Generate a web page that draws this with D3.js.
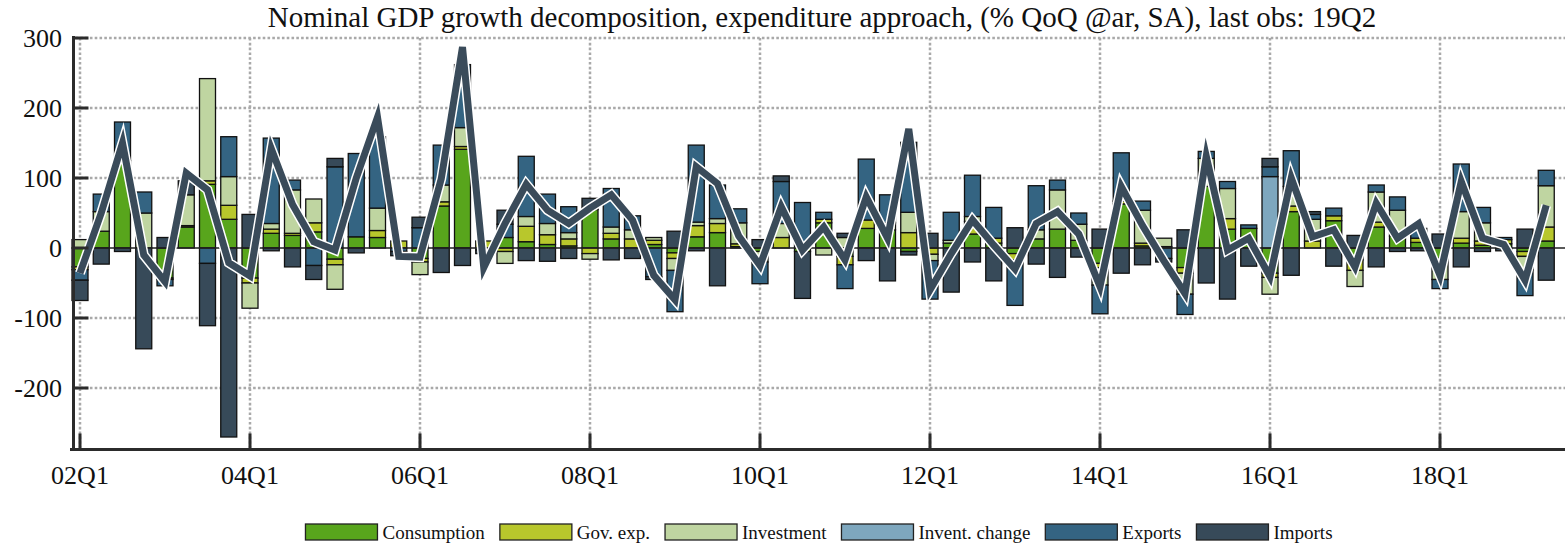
<!DOCTYPE html>
<html lang="en">
<head>
    <meta charset="UTF-8">
    <script src="https://d3js.org/d3.v7.min.js"></script>
    <title>Nominal GDP growth decomposition</title>
    <style>
        body { margin: 0; background: white; }
        svg { display: block; }
        text { font-family: "Liberation Serif", "DejaVu Serif", serif; }
        .grid line { stroke: #a9a9a9; stroke-width: 2.5px; stroke-dasharray: 2.6, 2.2; }
        .bar rect { stroke: #111; stroke-width: 1.3px; }
    </style>
</head>
<body>
<div class="fig"></div>
<script>
    /*------------------- Data --------------------*/
    // quarters 02Q1 .. 19Q2
    const quarters = d3.range(70).map(i =>
        String(2 + Math.floor(i / 4)).padStart(2, "0") + "Q" + (i % 4 + 1));

    const xTickLabels = ["02Q1", "04Q1", "06Q1", "08Q1", "10Q1", "12Q1", "14Q1", "16Q1", "18Q1"];
    const yTicks = [300, 200, 100, 0, -100, -200];

    const seriesNames = ["Consumption", "Gov. exp.", "Investment", "Invent. change", "Exports", "Imports"];
    const seriesColors = ["#58a51c", "#b8c72c", "#bfd5a1", "#7ea7be", "#346482", "#374a59"];

    const consumption = [-27, 24, 125, 0, -43, 30, 91, 41, -43, 21, 18, 23, -16, 16, 15, 0, -15, 60, 141, 0,
        15, 9, 5, 3, 55, 13, 0, 5, -7, 16, 22, 2, -5, 0, -5, 36, -12, 28, 26, -5,
        0, 7, 20, 7, -8, 13, 27, 11, -22, 63, 3, 2, -28, 88, 27, 28, -36, 52, 0, 39,
        -17, 30, 17, 8, -15, 7, 4, 6, -5, 10];
    const govExp = [-4, 0, 0, 0, -2, 2, 5, 20, -7, 6, 3, 13, -8, 0, 10, 10, -5, 6, 4, 10,
        -5, 22, 14, 10, -8, 8, 13, 6, -8, 16, 13, 4, 0, 15, 0, 5, -12, 12, 0, 22,
        -9, 0, 18, 7, -9, 0, 0, 0, -6, 4, 4, 0, -8, 0, 15, 0, -6, 8, 10, 7,
        -15, 7, 0, 6, 0, 7, 6, 6, -7, 20];
    const investment = [12, 28, 0, 50, 0, 44, 146, 41, -36, 8, 62, 34, -35, 0, 32, 0, -18, 24, 27, 0,
        -17, 14, 16, 9, -8, 9, 13, 4, -17, 5, 7, 30, -15, 20, 0, -10, 15, 0, 10, 29,
        -9, 4, 7, 0, 0, 13, 56, 23, -25, 0, 47, 12, -30, 40, 43, 0, -24, 28, 31, 0,
        -23, 43, 37, 0, -30, 38, 26, 0, -19, 59];
    const inventChange = [0, 0, 0, 0, 0, 0, 0, 0, 0, 0, 0, 0, 0, 0, 0, 0, 0, 0, 0, 0,
        0, 0, 0, 0, 0, 0, 0, 0, 0, 0, 0, 0, 0, 0, 0, 0, 0, 0, 0, 0,
        0, 0, 0, 0, 0, 0, 0, 0, 0, 0, 0, 0, 0, 0, 0, 0, 102, 0, 0, 0,
        0, 0, 0, 0, 0, 0, 0, 0, 0, 0];
    const exportsC = [-15, 25, 55, 30, -9, 0, -22, 57, 0, 122, 14, -25, 116, 119, 102, -5, 29, 57, 90, -3,
        19, 86, 42, 37, 0, 55, 20, -41, -59, 110, 48, 20, -31, 60, 65, 10, -34, 87, 40, 100,
        -55, 40, 59, 44, -65, 63, 14, 16, -41, 69, 13, -15, -29, 10, 10, 5, 14, 51, 7, 11,
        0, 10, 19, 14, -13, 68, 22, 3, -37, 22];
    const importsC = [-29, -23, -5, -144, 15, 20, -89, -270, 48, -4, -27, -20, 12, -7, 0, -6, 15, -35, -25, -5,
        20, -18, -19, -15, 16, -17, -15, -4, 24, -4, -54, 0, 12, 8, -67, 0, 6, -18, -47, -5,
        21, -63, -20, -47, 29, -23, -42, -13, 27, -36, -24, -5, 26, -50, -73, -26, 12, -39, 4, -26,
        18, -27, -5, -4, 20, -27, -5, -4, 27, -46];
    const totalGrowth = [-36, 50, 150, -10, -48, 107, 83, -21, -40, 142, 62, 9, -3, 100, 187, -12, -13, 99, 287, -28,
        35, 91, 54, 35, 57, 76, 40, -39, -74, 116, 92, 17, -25, 59, -3, 30, -17, 73, 14, 170,
        -60, -8, 40, 4, -30, 35, 52, 20, -55, 88, 32, -18, -65, 131, -3, 14, -41, 100, 16, 26,
        -27, 64, 14, 35, -39, 95, 14, 5, -46, 61];

    const seriesValues = [consumption, govExp, investment, inventChange, exportsC, importsC];

    /*------------------- Layout --------------------*/
    const width = 1565, height = 549;
    const fontFam = '"Liberation Serif", "DejaVu Serif", serif';
    const svg = d3.select(".fig").append("svg")
        .attr("width", width)
        .attr("height", height)
        .attr("font-family", fontFam);

    const x = d3.scaleLinear().domain([0, quarters.length - 1]).range([80, 1546.25]);
    const y = d3.scaleLinear().domain([-290, 300]).range([451, 38]);
    const barW = 16;
    const plotLeft = 73.5, plotRight = 1565, plotTop = 38, plotBottom = 449.5;

    // table for the stack
    const table = quarters.map((q, i) => {
        const row = { q: q, i: i };
        seriesNames.forEach((name, k) => row[name] = seriesValues[k][i]);
        return row;
    });

    const stacked = d3.stack()
        .keys(seriesNames)
        .offset(d3.stackOffsetDiverging)(table);

    /*------------------- Grid --------------------*/
    const grid = svg.append("g").attr("class", "grid");
    grid.selectAll(".hg")
        .data(yTicks.filter(v => v !== 0))
        .enter().append("line")
        .attr("x1", plotLeft + 2).attr("x2", plotRight)
        .attr("y1", d => y(d)).attr("y2", d => y(d));
    grid.selectAll(".vg")
        .data(xTickLabels)
        .enter().append("line")
        .attr("x1", d => x(quarters.indexOf(d))).attr("x2", d => x(quarters.indexOf(d)))
        .attr("y1", plotTop).attr("y2", plotBottom - 2);

    /*------------------- Bars --------------------*/
    svg.selectAll(".bar")
        .data(stacked)
        .enter().append("g")
        .attr("class", "bar")
        .attr("fill", (d, k) => seriesColors[k])
        .selectAll("rect")
        .data(d => d.filter(p => p[1] - p[0] !== 0))
        .enter().append("rect")
        .attr("x", d => x(d.data.i) - barW / 2)
        .attr("width", barW)
        .attr("y", d => y(Math.max(d[0], d[1])))
        .attr("height", d => Math.abs(y(d[0]) - y(d[1])));

    // zero line
    svg.append("line")
        .attr("x1", plotLeft).attr("x2", plotRight)
        .attr("y1", y(0)).attr("y2", y(0))
        .attr("stroke", "#222").attr("stroke-width", 1.4);

    /*------------------- Total line --------------------*/
    const lineGen = d3.line()
        .x((d, i) => x(i))
        .y(d => y(d));

    svg.append("path")
        .datum(totalGrowth)
        .attr("d", lineGen)
        .attr("fill", "none")
        .attr("stroke", "white")
        .attr("stroke-width", 10)
        .attr("stroke-linejoin", "miter")
        .attr("stroke-miterlimit", 6);
    svg.append("path")
        .datum(totalGrowth)
        .attr("d", lineGen)
        .attr("fill", "none")
        .attr("stroke", "#3a4b5a")
        .attr("stroke-width", 7)
        .attr("stroke-linejoin", "miter")
        .attr("stroke-miterlimit", 6);

    /*------------------- Axes --------------------*/
    const axisCol = "#2b2b2b";
    svg.append("line")
        .attr("x1", plotLeft).attr("x2", plotLeft)
        .attr("y1", plotTop - 2).attr("y2", plotBottom + 1.5)
        .attr("stroke", axisCol).attr("stroke-width", 3);
    svg.append("line")
        .attr("x1", 70).attr("x2", plotRight)
        .attr("y1", plotBottom).attr("y2", plotBottom)
        .attr("stroke", axisCol).attr("stroke-width", 3);

    // y ticks (inward) and labels
    svg.selectAll(".ytick")
        .data(yTicks)
        .enter().append("line")
        .attr("x1", plotLeft).attr("x2", plotLeft + 15)
        .attr("y1", d => y(d)).attr("y2", d => y(d))
        .attr("stroke", axisCol).attr("stroke-width", 3);
    svg.selectAll(".ylab")
        .data(yTicks)
        .enter().append("text")
        .attr("x", 62)
        .attr("y", d => y(d))
        .attr("dy", "0.35em")
        .attr("text-anchor", "end")
        .attr("font-family", fontFam)
        .attr("font-size", 26)
        .attr("fill", "#111")
        .text(d => d);

    // x ticks and labels
    svg.selectAll(".xtick")
        .data(xTickLabels)
        .enter().append("line")
        .attr("x1", d => x(quarters.indexOf(d))).attr("x2", d => x(quarters.indexOf(d)))
        .attr("y1", plotBottom - 16).attr("y2", plotBottom)
        .attr("stroke", axisCol).attr("stroke-width", 3);
    svg.selectAll(".xlab")
        .data(xTickLabels)
        .enter().append("text")
        .attr("x", d => x(quarters.indexOf(d)))
        .attr("y", 484)
        .attr("text-anchor", "middle")
        .attr("font-family", fontFam)
        .attr("font-size", 26)
        .attr("fill", "#111")
        .text(d => d);

    /*------------------- Title --------------------*/
    svg.append("text")
        .attr("x", 822)
        .attr("y", 27)
        .attr("text-anchor", "middle")
        .attr("font-family", fontFam)
        .attr("font-size", 29)
        .attr("fill", "#111")
        .text("Nominal GDP growth decomposition, expenditure approach, (% QoQ @ar, SA), last obs: 19Q2");

    /*------------------- Legend --------------------*/
    const legend = svg.append("g");
    let cursor = 0;
    seriesNames.forEach((name, k) => {
        const item = legend.append("g").attr("transform", `translate(${cursor},0)`);
        item.append("rect")
            .attr("x", 0).attr("y", 524)
            .attr("width", 72).attr("height", 16)
            .attr("fill", seriesColors[k])
            .attr("stroke", "#222").attr("stroke-width", 1.3);
        const t = item.append("text")
            .attr("x", 77).attr("y", 539)
            .attr("font-family", fontFam)
            .attr("font-size", 19)
            .attr("fill", "#111")
            .text(name);
        cursor += 77 + t.node().getComputedTextLength() + 15;
    });
    const legendW = cursor - 15;
    legend.attr("transform", `translate(${819 - legendW / 2},0)`);
</script>
</body>
</html>
